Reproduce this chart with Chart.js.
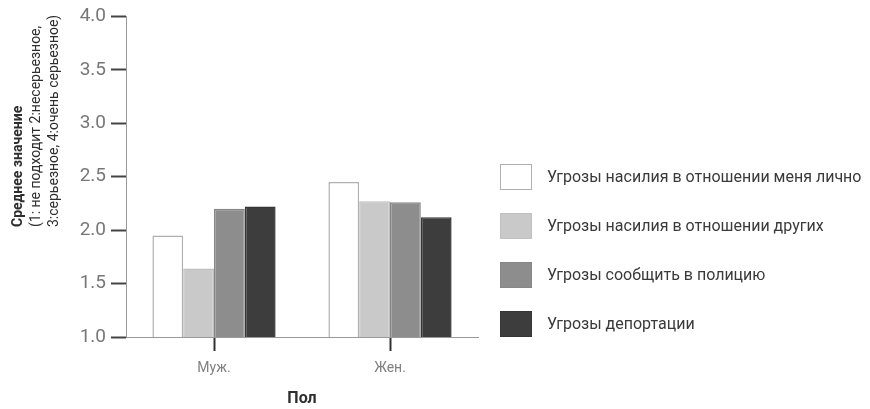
<!DOCTYPE html>
<html>
<head>
<meta charset="utf-8">
<script src="https://cdn.jsdelivr.net/npm/chart.js@4"></script>
<style>
  html, body { margin: 0; padding: 0; background: #fff; }
  #wrap { position: relative; width: 870px; height: 409px; overflow: hidden; }
  #legend { position: absolute; left: 500px; top: 163px; margin: 0; padding: 0; list-style: none;
    font-family: "Liberation Sans Narrow", "Roboto", sans-serif; font-size: 16px; color: #3a3a3a; white-space: nowrap; }
  #legend li { height: 27px; margin-bottom: 22px; display: flex; align-items: center; }
  #legend span.box { display: inline-block; width: 32px; height: 26px; margin-right: 15px; box-sizing: border-box; }
</style>
</head>
<body>
<div id="wrap">
  <canvas id="chart" width="870" height="409"></canvas>
  <ul id="legend"></ul>
</div>
<script>
// Data
const categories = ["Муж.", "Жен."];
const seriesNames = [
  "Угрозы насилия в отношении меня лично",
  "Угрозы насилия в отношении других",
  "Угрозы сообщить в полицию",
  "Угрозы депортации"
];
const personalViolence = [1.95, 2.45];
const othersViolence = [1.64, 2.27];
const policeThreat = [2.20, 2.26];
const deportThreat = [2.22, 2.12];
const yTicks = [1.0, 1.5, 2.0, 2.5, 3.0, 3.5, 4.0];

const fills = ["#ffffff", "#c9c9c9", "#8d8d8d", "#3d3d3d"];
const borders = ["#b0b0b0", "#c0c0c0", "#868686", "#363636"];
const font = '"Liberation Sans Narrow", "Roboto", sans-serif';

const seriesValues = [personalViolence, othersViolence, policeThreat, deportThreat];

// Y-axis title drawn as three left-aligned rotated lines
const yTitlePlugin = {
  id: "yTitle",
  afterDraw(chart) {
    const ctx = chart.ctx;
    ctx.save();
    ctx.translate(0, 227);
    ctx.rotate(-Math.PI / 2);
    ctx.textAlign = "left";
    ctx.textBaseline = "middle";
    ctx.fillStyle = "#2e2e2e";
    ctx.font = "bold 14px " + font;
    ctx.fillText("Среднее значение", 0, 18);
    ctx.font = "14px " + font;
    ctx.fillText("(1: не подходит 2:несерьезное,", 0, 36);
    ctx.fillText("3:серьезное, 4:очень серьезное)", 0, 54);
    ctx.restore();
  }
};

const chart = new Chart(document.getElementById("chart"), {
  type: "bar",
  data: {
    labels: categories,
    datasets: seriesNames.map((name, i) => ({
      label: name,
      data: seriesValues[i],
      backgroundColor: fills[i],
      borderColor: borders[i],
      borderWidth: 1.5,
      categoryPercentage: 0.7,
      barPercentage: 1.0
    }))
  },
  options: {
    responsive: false,
    animation: false,
    layout: { padding: { top: 14, right: 392, left: 0, bottom: 0 } },
    plugins: {
      legend: { display: false },
      tooltip: { enabled: false }
    },
    scales: {
      x: {
        grid: { display: true, drawOnChartArea: false, offset: false, tickLength: 14, tickColor: "#333", tickWidth: 2 },
        border: { color: "#999", width: 1 },
        ticks: { color: "#808080", font: { family: font, size: 14 }, padding: 9 },
        title: { display: true, text: "Пол", color: "#2e2e2e", font: { family: font, size: 16, weight: "bold" }, padding: { top: 6, bottom: 0 } },
        afterFit: (s) => { s.height = 72; }
      },
      y: {
        min: 1.0,
        max: 4.0,
        afterBuildTicks: (s) => { s.ticks = yTicks.map(v => ({ value: v })); },
        grid: { display: true, drawOnChartArea: false, tickLength: 15, tickColor: "#444", tickWidth: 2 },
        border: { color: "#999", width: 1 },
        ticks: { color: "#777", font: { family: font, size: 19 }, padding: 5,
          callback: (v) => Number(v).toFixed(1) },
        afterFit: (s) => { s.width = 126; }
      }
    }
  },
  plugins: [yTitlePlugin]
});

// HTML legend built from the datasets
const legend = document.getElementById("legend");
chart.data.datasets.forEach((ds) => {
  const li = document.createElement("li");
  li.innerHTML = `<span class="box" style="background:${ds.backgroundColor};border:1.5px solid ${ds.borderColor}"></span>${ds.label}`;
  legend.appendChild(li);
});
</script>
</body>
</html>
